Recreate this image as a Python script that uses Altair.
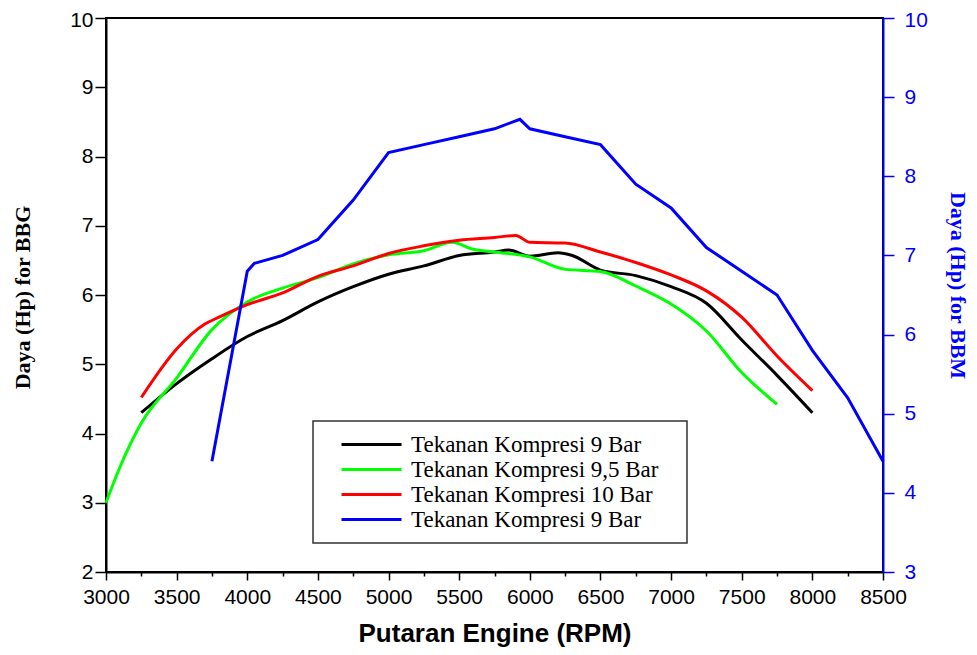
import altair as alt
import pandas as pd

# ---------------- data ----------------
series_names = [
    "Tekanan Kompresi 9 Bar",
    "Tekanan Kompresi 9,5 Bar",
    "Tekanan Kompresi 10 Bar",
    "Tekanan Kompresi 9 Bar (BBM)",
]
series_colors = ["#000000", "#00ff00", "#ff0000", "#0000ff"]

rpm_9 = [3250, 3500, 3750, 4000, 4250, 4500, 4750, 5000, 5250, 5500, 5750, 5850,
         6000, 6200, 6300, 6500, 6750, 7000, 7250, 7500, 7750, 8000]
daya_9 = [4.30, 4.72, 5.08, 5.40, 5.63, 5.90, 6.12, 6.30, 6.42, 6.57, 6.62, 6.65,
          6.56, 6.61, 6.57, 6.36, 6.28, 6.12, 5.88, 5.35, 4.84, 4.30]

rpm_95 = [3000, 3100, 3250, 3500, 3750, 4000, 4250, 4500, 4750, 5000, 5250, 5450,
          5600, 5750, 6000, 6250, 6500, 6750, 7000, 7250, 7500, 7750]
daya_95 = [3.00, 3.52, 4.15, 4.80, 5.50, 5.90, 6.10, 6.25, 6.45, 6.58, 6.64, 6.76,
           6.66, 6.62, 6.55, 6.37, 6.34, 6.13, 5.87, 5.48, 4.88, 4.42]

rpm_10 = [3250, 3500, 3700, 3800, 4000, 4250, 4500, 4750, 5000, 5250, 5500, 5750,
          5900, 6000, 6250, 6500, 6750, 7000, 7250, 7500, 7750, 8000]
daya_10 = [4.52, 5.22, 5.58, 5.68, 5.86, 6.03, 6.27, 6.42, 6.60, 6.71, 6.79, 6.83,
           6.86, 6.76, 6.75, 6.62, 6.47, 6.29, 6.06, 5.68, 5.12, 4.62]

rpm_bbm = [3750, 4000, 4050, 4250, 4500, 4750, 5000, 5250, 5500, 5750, 5930, 6000,
           6250, 6500, 6750, 7000, 7250, 7500, 7750, 8000, 8250, 8500]
daya_bbm = [4.4, 6.8, 6.9, 7.0, 7.2, 7.7, 8.3, 8.4, 8.5, 8.6, 8.72, 8.6,
            8.5, 8.4, 7.9, 7.6, 7.1, 6.8, 6.5, 5.8, 5.2, 4.4]

x_ticks = list(range(3000, 8501, 250))
y_left_ticks = [2 + 0.5 * i for i in range(17)]
y_right_ticks = [3 + 0.5 * i for i in range(15)]

# ---------------- tables ----------------
rows = []
for name, xs, ys in [(series_names[0], rpm_9, daya_9),
                     (series_names[1], rpm_95, daya_95),
                     (series_names[2], rpm_10, daya_10)]:
    for xv, yv in zip(xs, ys):
        rows.append({"rpm": xv, "daya": yv, "seri": name})
df_bbg = pd.DataFrame(rows)
df_bbm = pd.DataFrame({"rpm": rpm_bbm, "daya": daya_bbm, "seri": series_names[3]})

# ---------------- encodings ----------------
PAD_TAIL = "\u00a0\u00a0\u00a0\u200b"   # widens the legend box like the reference
legend = alt.Legend(
    title=None, orient="none", legendX=207, legendY=403, direction="vertical",
    symbolType="stroke", symbolSize=3600, symbolStrokeWidth=3, clipHeight=25,
    labelFont="Liberation Serif", labelFontSize=23, labelColor="black",
    labelLimit=500, labelOffset=8, rowPadding=0, padding=11, symbolOffset=16,
    strokeColor="#333333", fillColor="white",
    labelExpr="replace(datum.label, ' (BBM)', '') + '" + PAD_TAIL + "'",
)
color = alt.Color("seri:N",
                  scale=alt.Scale(domain=series_names, range=series_colors),
                  legend=legend)

x_enc = alt.X(
    "rpm:Q",
    scale=alt.Scale(domain=[3000, 8500], nice=False, zero=False),
    axis=alt.Axis(
        values=x_ticks, format="d", grid=False, labelFlush=False,
        labelExpr="datum.value % 500 == 0 ? datum.label : ''",
        tickSize={"condition": {"test": "datum.value % 500 == 0", "value": 8}, "value": 4},
        labelPadding=6, labelOverlap=False,
        title="Putaran Engine (RPM)", titleFont="Liberation Sans",
        titleFontSize=26, titleFontWeight="bold", titleY=69,
        titleBaseline="alphabetic",
    ),
)

top_label_offset = {"condition": {"test": "datum.value == 10", "value": 2}, "value": 0}

y_left = alt.Y(
    "daya:Q",
    scale=alt.Scale(domain=[2, 10], nice=False, zero=False),
    axis=alt.Axis(
        values=y_left_ticks, grid=False, orient="left", format="d", labelFlush=False,
        labelExpr="datum.value % 1 == 0 ? datum.label : ''",
        tickSize={"condition": {"test": "datum.value % 1 == 0", "value": 11}, "value": 6},
        labelPadding=2, labelOverlap=False, labelOffset=top_label_offset,
        title="Daya (Hp) for BBG", titleFont="Liberation Serif", titleFontSize=22,
        titleFontWeight="bold", titleAngle=-90, titleX=-84, titleY=279,
        titleAlign="center", titleBaseline="middle",
    ),
)

y_right = alt.Y(
    "daya:Q",
    scale=alt.Scale(domain=[3, 10], nice=False, zero=False),
    axis=alt.Axis(
        values=y_right_ticks, grid=False, orient="right", format="d", labelFlush=False,
        labelExpr="datum.value % 1 == 0 ? datum.label : ''",
        tickSize=11,
        labelPadding=10, labelOverlap=False, labelOffset=top_label_offset,
        domainColor="#0000ff", tickColor="#0000ff", labelColor="#0000ff",
        title="Daya (Hp) for BBM", titleColor="#0000ff", titleFont="Liberation Serif",
        titleFontSize=22, titleFontWeight="bold", titleAngle=90, titleX=74,
        titleY=267, titleAlign="center", titleBaseline="middle",
    ),
)

left_lines = alt.Chart(df_bbg).mark_line(strokeWidth=3, interpolate="monotone").encode(
    x=x_enc, y=y_left, color=color
)
right_line = alt.Chart(df_bbm).mark_line(strokeWidth=3).encode(
    x=x_enc, y=y_right, color=color
)

chart = (
    alt.layer(left_lines, right_line)
    .resolve_scale(y="independent")
    .properties(
        width=777, height=554,
        autosize=alt.AutoSizeParams(type="none"),
        padding={"left": 98, "top": 10, "right": 86, "bottom": 75},
        background="white",
    )
    .configure_view(stroke="black", strokeWidth=2)
    .configure_axis(
        domainColor="black", domainWidth=2, tickColor="black", tickWidth=1.5,
        labelFont="Liberation Sans", labelFontSize=21, labelColor="black",
        titleColor="black",
    )
    .configure_legend(strokeWidth=1.5)
)

chart.save("out.html", embed_options={"renderer": "svg", "actions": False})
